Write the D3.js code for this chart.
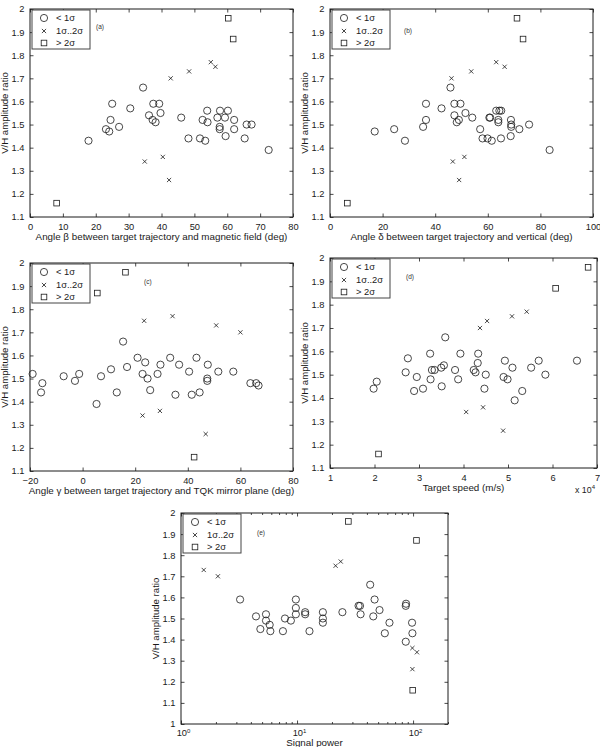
<!DOCTYPE html>
<html><head><meta charset="utf-8">
<script src="https://cdn.jsdelivr.net/npm/d3@7"></script>
<style>
body{margin:0;background:#fff;}
svg{display:block;font-family:"Liberation Sans",Arial,Helvetica,sans-serif;}
</style></head>
<body>
<script>
// ---------- DATA ----------
const legendLabels = ["< 1σ", "1σ..2σ", "> 2σ"];
const yTicksA = [1.1,1.2,1.3,1.4,1.5,1.6,1.7,1.8,1.9,2];
const yTicksE = [1,1.1,1.2,1.3,1.4,1.5,1.6,1.7,1.8,1.9,2];
const xTicksA = [0,10,20,30,40,50,60,70,80];
const xTicksB = [0,20,40,60,80,100];
const xTicksC = [-20,0,20,40,60,80];
const xTicksD = [1,2,3,4,5,6,7];
const xTicksE = [1,10,100];

// panel (a): beta
const aCirc = [[17.8,1.43],[23.1,1.48],[24.1,1.47],[24.5,1.52],[25,1.59],[27.1,1.49],[30.5,1.57],[34.4,1.66],[36.2,1.54],[37.5,1.59],[37.3,1.52],[38.2,1.51],[39.3,1.59],[39.7,1.55],[46,1.53],[48.2,1.44],[51.7,1.44],[52.5,1.52],[53.3,1.43],[53.9,1.56],[54,1.51],[57,1.53],[57.8,1.56],[57.7,1.49],[57.7,1.48],[59.3,1.53],[59.5,1.45],[60.2,1.56],[62.1,1.52],[62.1,1.48],[65.3,1.44],[65.9,1.50],[67.4,1.50],[72.6,1.39]];
const aCross = [[34.9,1.34],[40.4,1.36],[42.3,1.26],[42.8,1.70],[48.4,1.73],[55,1.77],[56.4,1.75]];
const aSq = [[8.1,1.16],[60.3,1.96],[61.8,1.87]];

// panel (b): delta
const bCirc = [[17.0,1.47],[24.4,1.48],[28.5,1.43],[35.4,1.49],[36.5,1.52],[36.5,1.59],[42.4,1.57],[45.8,1.66],[47.3,1.59],[47.3,1.54],[48.2,1.51],[49.0,1.52],[49.6,1.59],[51.5,1.55],[54.1,1.53],[57.1,1.48],[58.0,1.44],[59.9,1.44],[60.6,1.53],[60.9,1.53],[61.5,1.43],[63.2,1.56],[64,1.52],[64,1.51],[64.4,1.56],[65.1,1.56],[65,1.44],[68.8,1.52],[68.9,1.50],[68.9,1.49],[68.7,1.45],[72,1.48],[75.7,1.50],[83.5,1.39]];
const bCross = [[46.7,1.34],[46.2,1.70],[49.1,1.26],[51.1,1.36],[53.7,1.73],[63.2,1.77],[66.4,1.75]];
const bSq = [[6.6,1.16],[71.1,1.96],[73.4,1.87]];

// panel (c): gamma
const cCirc = [[-19,1.52],[-15.3,1.48],[-15.8,1.44],[-7.2,1.51],[-2.9,1.49],[-1.3,1.52],[5.3,1.39],[7,1.51],[10.8,1.54],[13,1.44],[15.4,1.66],[16.9,1.55],[20.9,1.59],[22.8,1.52],[23.8,1.57],[24.7,1.50],[25.7,1.45],[28.5,1.52],[29.6,1.56],[33.3,1.59],[35.3,1.43],[36.7,1.56],[40.5,1.53],[41.5,1.43],[43.3,1.59],[44.5,1.44],[47.4,1.49],[47.4,1.50],[47.6,1.56],[51.6,1.53],[57.3,1.53],[63.8,1.48],[66,1.48],[66.9,1.47]];
const cCross = [[22.8,1.34],[23.4,1.75],[29.4,1.36],[34.2,1.77],[46.8,1.26],[50.8,1.73],[60,1.70]];
const cSq = [[16.3,1.96],[5.6,1.87],[42.4,1.16]];

// panel (d): target speed (x 1e4 m/s)
const dCirc = [[1.98,1.44],[2.05,1.47],[2.70,1.51],[2.75,1.57],[2.89,1.43],[2.95,1.49],[3.09,1.44],[3.25,1.59],[3.26,1.48],[3.29,1.52],[3.35,1.52],[3.50,1.53],[3.51,1.45],[3.56,1.54],[3.59,1.66],[3.81,1.52],[3.88,1.48],[3.93,1.59],[4.23,1.52],[4.27,1.51],[4.33,1.59],[4.32,1.55],[4.50,1.50],[4.47,1.44],[4.90,1.49],[4.93,1.56],[4.99,1.48],[5.10,1.53],[5.15,1.39],[5.32,1.43],[5.52,1.53],[5.69,1.56],[5.84,1.50],[6.55,1.56]];
const dCross = [[4.06,1.34],[4.37,1.70],[4.44,1.36],[4.53,1.73],[4.89,1.26],[5.09,1.75],[5.42,1.77]];
const dSq = [[2.09,1.16],[6.07,1.87],[6.80,1.96]];

// panel (e): signal power (log)
const eCirc = [[3.23,1.59],[4.43,1.51],[4.83,1.45],[5.40,1.52],[5.40,1.49],[5.81,1.47],[5.89,1.44],[7.56,1.44],[7.87,1.50],[8.85,1.49],[9.77,1.59],[9.77,1.55],[9.77,1.52],[11.75,1.53],[11.75,1.52],[12.8,1.44],[16.7,1.53],[16.7,1.50],[16.7,1.48],[24.6,1.53],[33.9,1.56],[34.9,1.56],[35.3,1.52],[42.7,1.66],[46.6,1.59],[45.4,1.51],[51.4,1.54],[62.6,1.48],[57.1,1.43],[86.5,1.56],[87,1.57],[86.5,1.39],[98,1.48],[98.7,1.43]];
const eCross = [[1.57,1.73],[2.08,1.70],[21.5,1.75],[23.8,1.77],[98.7,1.36],[108,1.34],[98.7,1.26]];
const eSq = [[27.7,1.96],[107,1.87],[99.3,1.16]];

// ---------- DRAW ----------
const W = 600, H = 747;
const svg = d3.select("body").append("svg").attr("width", W).attr("height", H);
const INK = "#1a1a1a";

function panel(cfg) {
  const {x0, x1, y0, y1} = cfg.box;
  const g = svg.append("g");
  const xs = cfg.log
    ? d3.scaleLog().domain(cfg.xDomain).range([x0, x1])
    : d3.scaleLinear().domain(cfg.xDomain).range([x0, x1]);
  const ys = d3.scaleLinear().domain(cfg.yDomain).range([y1, y0]);

  // frame
  g.append("rect").attr("x", x0).attr("y", y0).attr("width", x1 - x0).attr("height", y1 - y0)
    .attr("fill", "none").attr("stroke", INK).attr("stroke-width", 1);

  // axes (inward ticks on all sides)
  const tl = 3.5;
  const bottom = d3.axisBottom(xs).tickValues(cfg.xTicks).tickSize(-tl).tickPadding(tl + 3)
    .tickFormat(cfg.log ? () => "" : cfg.xFmt);
  const top = d3.axisTop(xs).tickValues(cfg.xTicks).tickSize(-tl).tickFormat("");
  const left = d3.axisLeft(ys).tickValues(cfg.yTicks).tickSize(-tl).tickPadding(tl + 2)
    .tickFormat(d => d3.format("~g")(d));
  const right = d3.axisRight(ys).tickValues(cfg.yTicks).tickSize(-tl).tickFormat("");

  const style = sel => {
    sel.select(".domain").remove();
    sel.selectAll("line").attr("stroke", INK).attr("stroke-width", 0.8);
    sel.selectAll("text").attr("fill", INK).attr("font-size", 9.3)
      .attr("font-family", '"Liberation Sans",Arial,sans-serif');
  };
  g.append("g").attr("transform", `translate(0,${y1})`).call(bottom).call(style);
  g.append("g").attr("transform", `translate(0,${y0})`).call(top).call(style);
  g.append("g").attr("transform", `translate(${x0},0)`).call(left).call(style);
  g.append("g").attr("transform", `translate(${x1},0)`).call(right).call(style);

  if (cfg.log) {
    // minor ticks
    const minors = [];
    for (let dec = 1; dec <= 100; dec *= 10)
      for (let m = 2; m <= 9; m++) { const v = m * dec; if (v <= cfg.xDomain[1]) minors.push(v); }
    const bm = d3.axisBottom(xs).tickValues(minors).tickSize(-2).tickFormat("");
    const tm = d3.axisTop(xs).tickValues(minors).tickSize(-2).tickFormat("");
    g.append("g").attr("transform", `translate(0,${y1})`).call(bm).call(style);
    g.append("g").attr("transform", `translate(0,${y0})`).call(tm).call(style);
    // power-of-ten labels
    cfg.xTicks.forEach(v => {
      const t = g.append("text").attr("x", xs(v) + 2.5).attr("y", y1 + 12)
        .attr("text-anchor", "middle").attr("font-size", 9.3).attr("fill", INK);
      t.append("tspan").text("10");
      t.append("tspan").attr("dy", -3.5).attr("font-size", 6).text(Math.round(Math.log10(v)));
    });
  }

  // axis labels
  g.append("text").attr("x", (x0 + x1) / 2).attr("y", y1 + (cfg.log ? 22 : 23))
    .attr("text-anchor", "middle").attr("font-size", 9.8).attr("fill", INK).text(cfg.xLabel);
  g.append("text").attr("transform", `translate(${x0 - 22},${(y0 + y1) / 2}) rotate(-90)`)
    .attr("text-anchor", "middle").attr("font-size", 9.6).attr("fill", INK).text("V/H amplitude ratio");

  // markers
  const mk = g.append("g").attr("fill", "none").attr("stroke", INK).attr("stroke-width", 0.8);
  mk.selectAll("circle.c").data(cfg.circ).join("circle")
    .attr("cx", d => xs(d[0])).attr("cy", d => ys(d[1])).attr("r", 3.6);
  mk.selectAll("path.x").data(cfg.cross).join("path")
    .attr("d", d => { const cx = xs(d[0]), cy = ys(d[1]), s = 2.1;
      return `M${cx - s},${cy - s}L${cx + s},${cy + s}M${cx - s},${cy + s}L${cx + s},${cy - s}`; });
  mk.selectAll("rect.s").data(cfg.sq).join("rect")
    .attr("x", d => xs(d[0]) - 2.8).attr("y", d => ys(d[1]) - 2.8).attr("width", 5.6).attr("height", 5.6);

  // legend
  const lx = x0 + 2, ly = y0 + 1;
  const lg = g.append("g");
  lg.append("rect").attr("x", lx).attr("y", ly).attr("width", 58).attr("height", 39)
    .attr("fill", "#fff").attr("stroke", "#444").attr("stroke-width", 1);
  const rows = [ly + 8, ly + 21, ly + 33];
  lg.append("circle").attr("cx", lx + 12).attr("cy", rows[0]).attr("r", 3.6)
    .attr("fill", "none").attr("stroke", INK).attr("stroke-width", 0.8);
  { const cx = lx + 12, cy = rows[1], s = 2.1;
    lg.append("path").attr("d", `M${cx - s},${cy - s}L${cx + s},${cy + s}M${cx - s},${cy + s}L${cx + s},${cy - s}`)
      .attr("fill", "none").attr("stroke", INK).attr("stroke-width", 0.8); }
  lg.append("rect").attr("x", lx + 12 - 2.8).attr("y", rows[2] - 2.8).attr("width", 5.6).attr("height", 5.6)
    .attr("fill", "none").attr("stroke", INK).attr("stroke-width", 0.8);
  legendLabels.forEach((t, i) => {
    lg.append("text").attr("x", lx + 24).attr("y", rows[i] + 3.2).attr("font-size", 9.3)
      .attr("fill", INK).text(t);
  });

  // panel tag
  g.append("text").attr("x", cfg.tag[0]).attr("y", cfg.tag[1]).attr("font-size", 6.5)
    .attr("fill", "#333").text(cfg.tag[2]);
  return {xs, ys, g};
}

const fmtInt = d3.format("d");
const fmtMinus = d => (d < 0 ? "\u2212" + Math.abs(d) : String(d));

panel({box:{x0:30,x1:293,y0:9,y1:217}, xDomain:[0,80], yDomain:[1.1,2], xTicks:xTicksA, yTicks:yTicksA,
  xFmt:fmtInt, xLabel:"Angle β between target trajectory and magnetic field (deg)",
  circ:aCirc, cross:aCross, sq:aSq, tag:[96,29,"(a)"]});
panel({box:{x0:330,x1:593,y0:9,y1:217}, xDomain:[0,100], yDomain:[1.1,2], xTicks:xTicksB, yTicks:yTicksA,
  xFmt:fmtInt, xLabel:"Angle δ between target trajectory and vertical (deg)",
  circ:bCirc, cross:bCross, sq:bSq, tag:[404,33,"(b)"]});
panel({box:{x0:30,x1:293,y0:263,y1:471}, xDomain:[-20,80], yDomain:[1.1,2], xTicks:xTicksC, yTicks:yTicksA,
  xFmt:fmtMinus, xLabel:"Angle γ between target trajectory and TQK mirror plane (deg)",
  circ:cCirc, cross:cCross, sq:cSq, tag:[144,284,"(c)"]});
const pd = panel({box:{x0:330,x1:597,y0:258,y1:468}, xDomain:[1,7], yDomain:[1.1,2], xTicks:xTicksD, yTicks:yTicksA,
  xFmt:fmtInt, xLabel:"Target speed (m/s)",
  circ:dCirc, cross:dCross, sq:dSq, tag:[406,279,"(d)"]});
{ const t = pd.g.append("text").attr("x", 575).attr("y", 493).attr("font-size", 8.8).attr("fill", INK);
  t.append("tspan").text("x 10");
  t.append("tspan").attr("dy", -4).attr("font-size", 6).text("4"); }
panel({box:{x0:181,x1:448,y0:513,y1:724}, log:true, xDomain:[1,200], yDomain:[1,2], xTicks:xTicksE, yTicks:yTicksE,
  xLabel:"Signal power",
  circ:eCirc, cross:eCross, sq:eSq, tag:[257,535,"(e)"]});
</script>
</body></html>
